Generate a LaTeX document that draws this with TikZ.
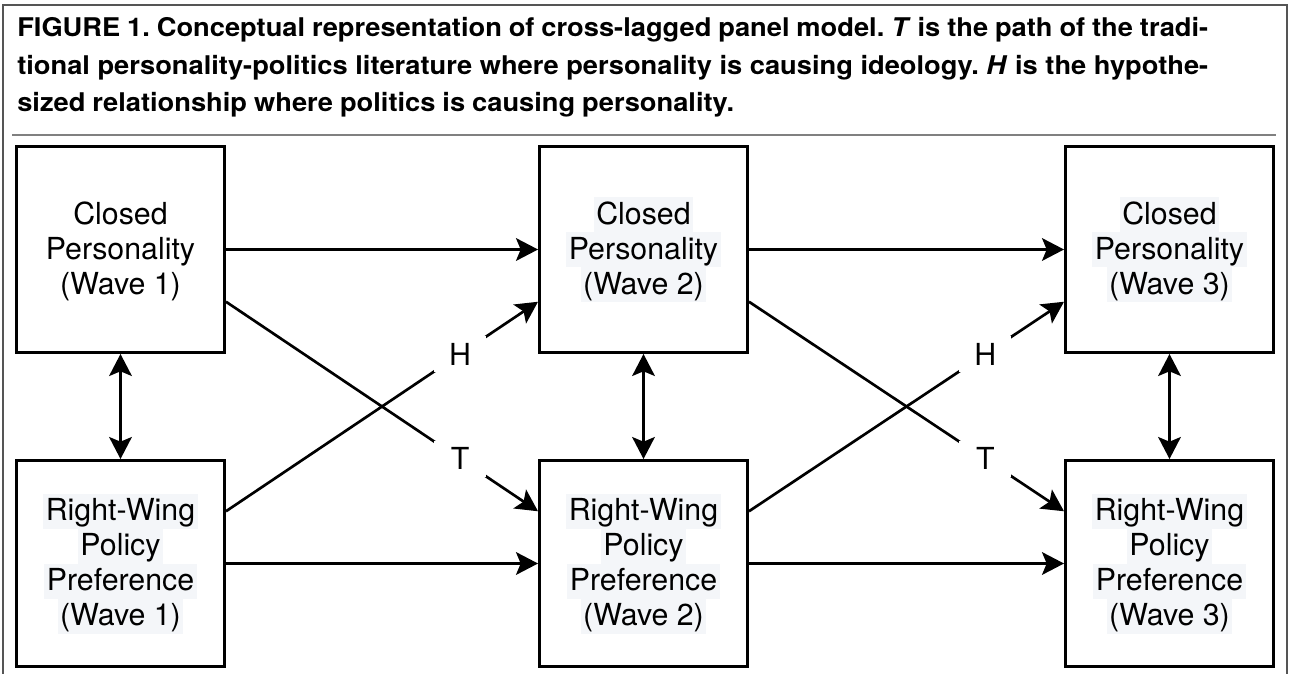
\documentclass[tikz,border=0pt]{standalone}
\usepackage{fontspec}
\setmainfont{TeX Gyre Heros}
\newfontfamily\capfont[FakeStretch=1.06]{TeX Gyre Heros}
\usetikzlibrary{arrows.meta,calc}
\definecolor{hlc}{HTML}{F4F6F9}
\definecolor{framec}{HTML}{555555}
\definecolor{sepc}{HTML}{808080}
\newcommand\mystrut{\rule[-5.8pt]{0pt}{26.25pt}}
\newcommand\hlt[1]{{\setlength{\fboxsep}{0pt}\colorbox{hlc}{\kern2pt\mystrut #1\kern2pt}}}
\newcommand\plt[1]{\mystrut #1}
\newcommand\capsetup{\capfont\fontsize{19.3}{28}\selectfont\bfseries\frenchspacing\spaceskip=0.27em plus 0.5em minus 0.1em\relax}
\tikzset{
  arrtip/.tip={Stealth[length=16.5pt,width=17pt,inset=3.5pt]},
}
\begin{document}
\begin{tikzpicture}[x=0.75pt,y=-0.75pt,
  boxnode/.style={draw, line width=2.2pt, minimum width=156pt, minimum height=154.5pt, inner sep=0pt, align=center, font=\fontsize{22.75}{26.25}\selectfont},
  conn/.style={line width=2pt, -arrtip},
  dconn/.style={line width=2pt, arrtip-arrtip},
  lbl/.style={fill=white, inner sep=0pt, minimum width=39pt, minimum height=27pt, font=\fontsize{22.75}{26.25}\selectfont},
  capline/.style={anchor=base west, inner sep=0pt, font=\capsetup}
]
\useasboundingbox (0,0) rectangle (1293,674);
% outer frame and separator
\draw[framec, line width=1.3pt] (3,674) -- (3,5) -- (1287,5) -- (1287,674);
\draw[sepc, line width=1.6pt] (12,135) -- (1276,135);
% caption
\node[capline] (cap1) at (17,37) {\makebox[893.25pt][s]{FIGURE 1. Conceptual representation of cross-lagged panel model. \textit{T} is the path of the tradi-}};
\node[capline] (cap2) at (17,75) {\makebox[893.25pt][s]{tional personality-politics literature where personality is causing ideology. \textit{H} is the hypothe-}};
\node[capline] (cap3) at (17,112) {sized relationship where politics is causing personality.};
% boxes
\node[boxnode] (A1) at (120.5,249.5) {\plt{Closed}\\\plt{Personality}\\\plt{(Wave 1)}};
\node[boxnode] (A2) at (643.5,249.5) {\hlt{Closed}\\\hlt{Personality}\\\hlt{(Wave 2)}};
\node[boxnode] (A3) at (1169.5,249.5) {\hlt{Closed}\\\hlt{Personality}\\\hlt{(Wave 3)}};
\node[boxnode] (B1) at (120.5,563.5) {\hlt{Right-Wing}\\\hlt{Policy}\\\hlt{Preference}\\\hlt{(Wave 1)}};
\node[boxnode] (B2) at (643.5,563.5) {\hlt{Right-Wing}\\\hlt{Policy}\\\hlt{Preference}\\\hlt{(Wave 2)}};
\node[boxnode] (B3) at (1169.5,563.5) {\hlt{Right-Wing}\\\hlt{Policy}\\\hlt{Preference}\\\hlt{(Wave 3)}};
% horizontal paths
\draw[conn] (A1.east) -- (A2.west);
\draw[conn] (A2.east) -- (A3.west);
\draw[conn] (B1.east) -- (B2.west);
\draw[conn] (B2.east) -- (B3.west);
% vertical correlations
\draw[dconn] (A1.south) -- (B1.north);
\draw[dconn] (A2.south) -- (B2.north);
\draw[dconn] (A3.south) -- (B3.north);
% cross-lagged paths
\draw[conn] ($(A1.south east)!0.25!(A1.north east)$) -- node[lbl,pos=0.75] (T1) {T} ($(B2.north west)!0.25!(B2.south west)$);
\draw[conn] ($(B1.north east)!0.25!(B1.south east)$) -- node[lbl,pos=0.75] (H1) {H} ($(A2.south west)!0.25!(A2.north west)$);
\draw[conn] ($(A2.south east)!0.25!(A2.north east)$) -- node[lbl,pos=0.75] (T2) {T} ($(B3.north west)!0.25!(B3.south west)$);
\draw[conn] ($(B2.north east)!0.25!(B2.south east)$) -- node[lbl,pos=0.75] (H2) {H} ($(A3.south west)!0.25!(A3.north west)$);
\end{tikzpicture}
\end{document}
